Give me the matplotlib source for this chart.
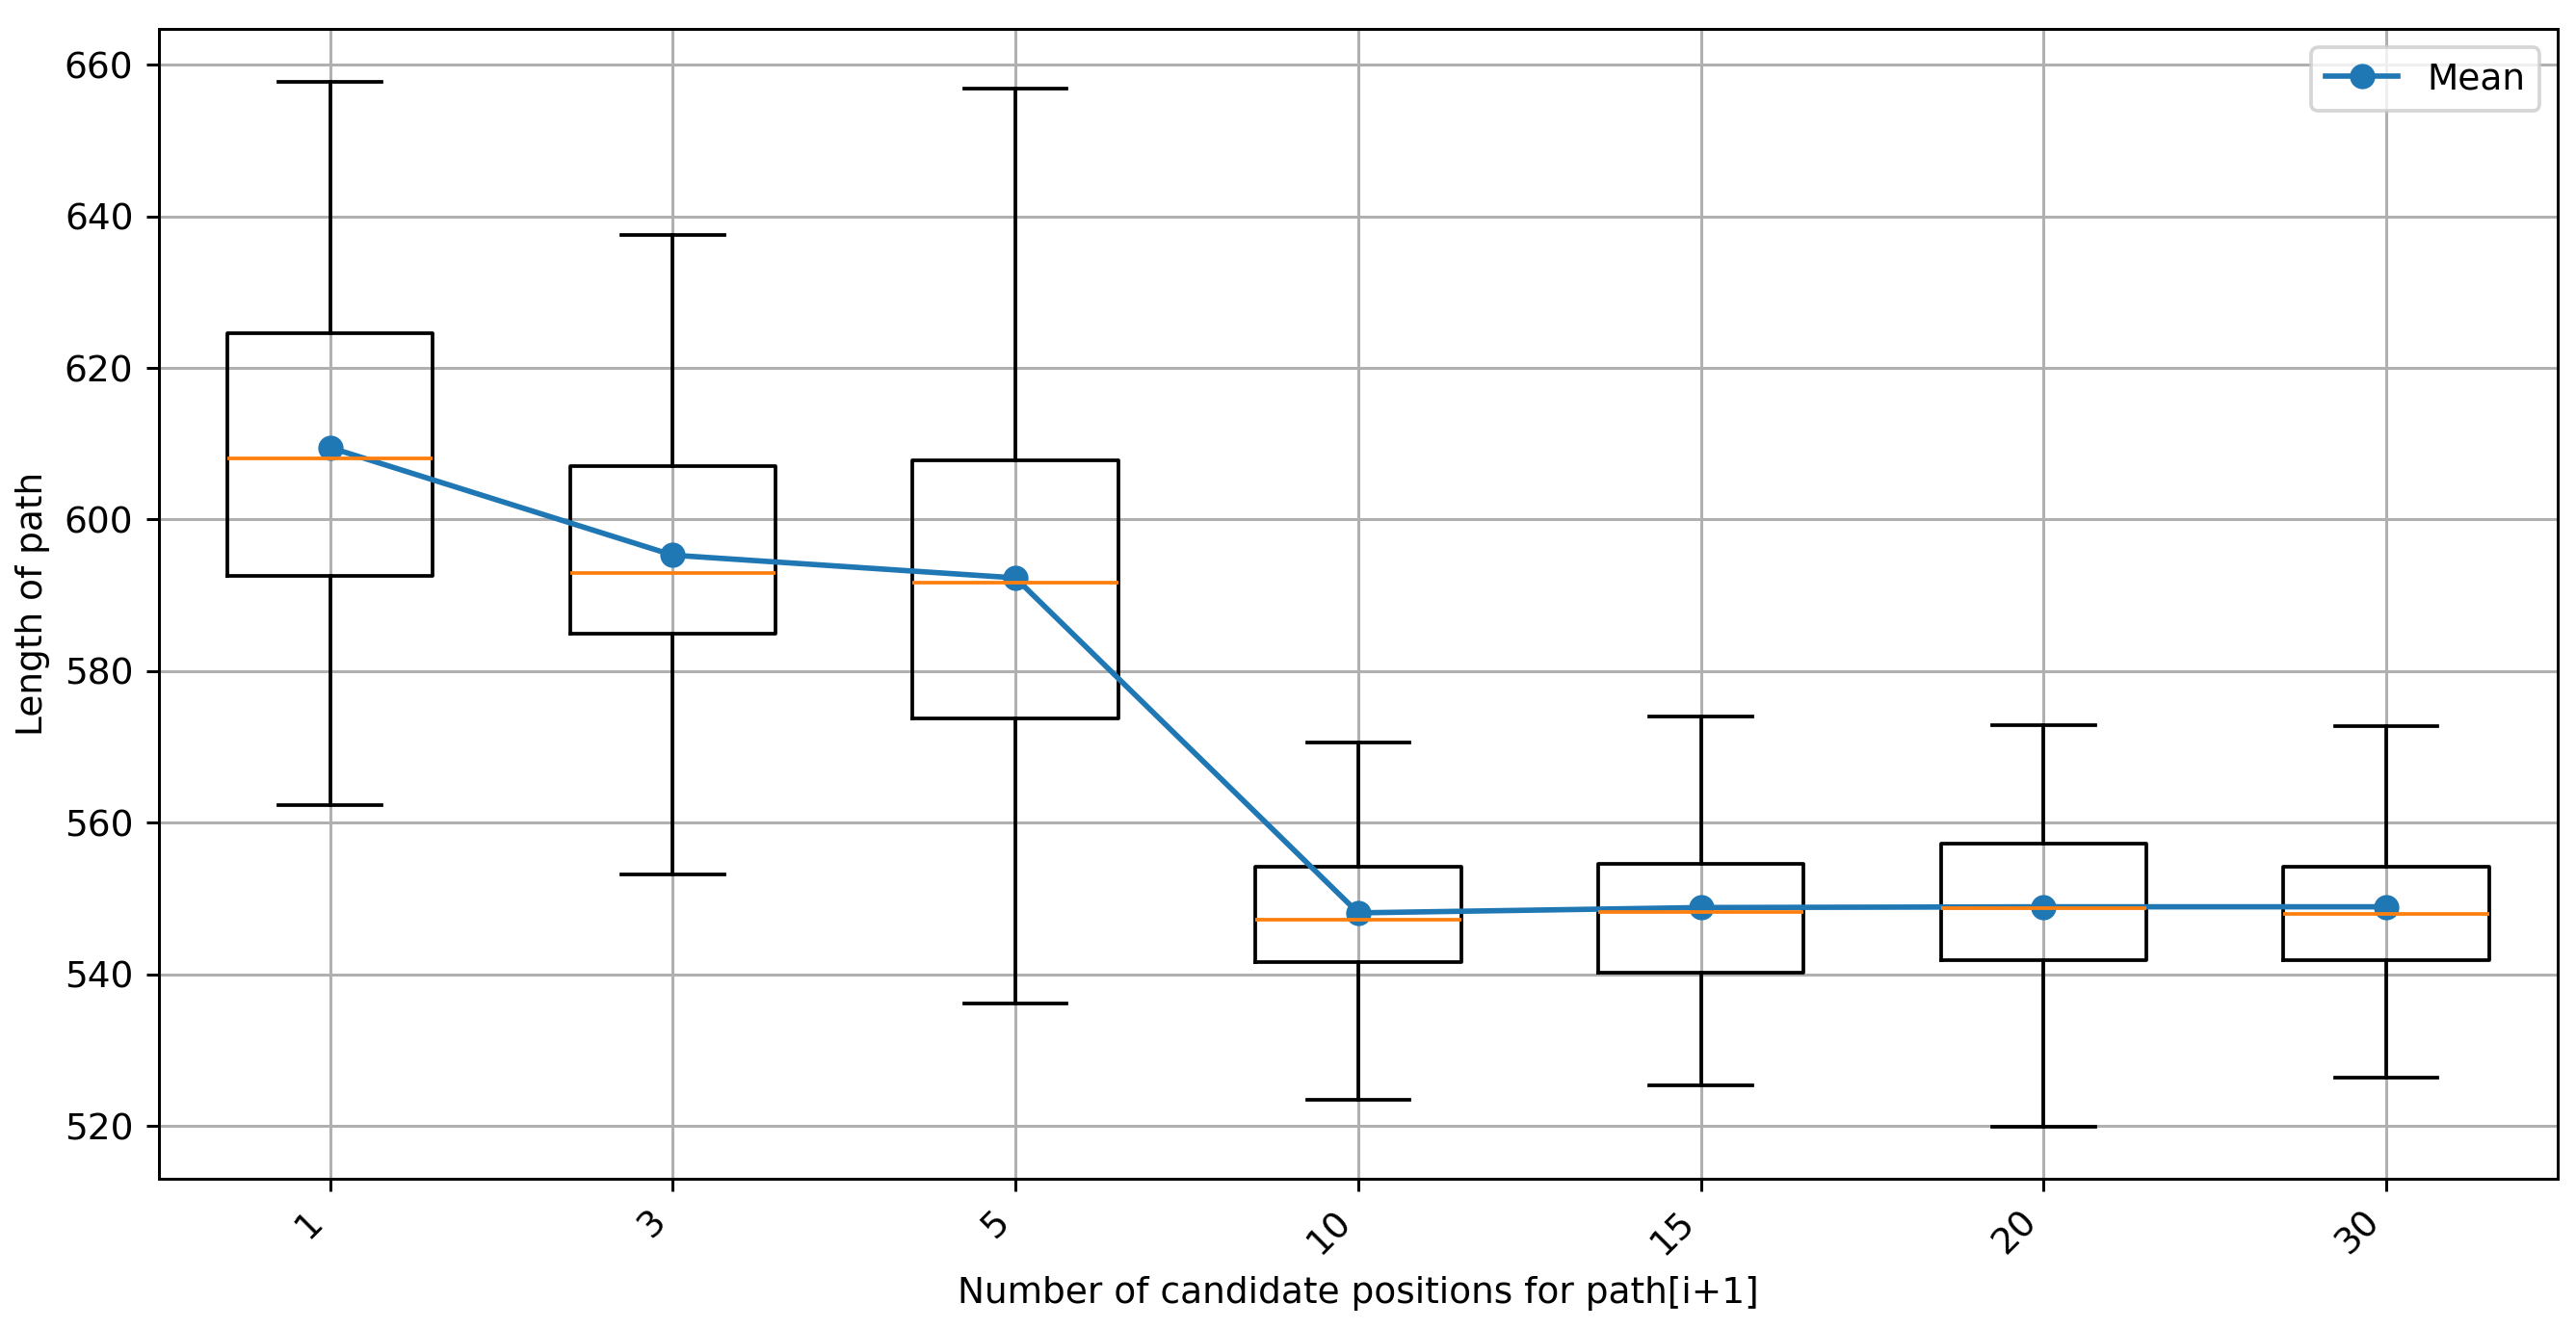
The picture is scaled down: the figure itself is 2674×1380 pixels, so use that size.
import matplotlib
matplotlib.use("Agg")
import matplotlib.pyplot as plt

# candidate counts on the x axis
candidates = ["1", "3", "5", "10", "15", "20", "30"]

# box statistics
whisker_low = [562.3, 553.2, 536.1, 523.4, 525.3, 519.9, 526.4]
q1 = [592.5, 585.0, 573.8, 541.6, 540.2, 541.8, 541.9]
medians = [608.1, 593.0, 591.7, 547.2, 548.2, 548.7, 547.9]
q3 = [624.6, 607.0, 607.8, 554.2, 554.6, 557.2, 554.2]
whisker_high = [657.8, 637.5, 656.8, 570.6, 574.0, 572.9, 572.7]
means = [609.5, 595.3, 592.3, 548.1, 548.8, 548.9, 548.9]

stats = []
for i, name in enumerate(candidates):
    stats.append({
        "label": name,
        "whislo": whisker_low[i],
        "q1": q1[i],
        "med": medians[i],
        "q3": q3[i],
        "whishi": whisker_high[i],
        "fliers": [],
    })

positions = list(range(1, len(candidates) + 1))

DPI = 270
fig = plt.figure(figsize=(2674 / DPI, 1380 / DPI), dpi=DPI)
ax = fig.add_axes([0.0616, 0.113, 0.9313, 0.865])

ax.bxp(stats, positions=positions, widths=0.6, showfliers=False)
ax.plot(positions, means, marker="o", label="Mean")

ax.set_xticks(positions)
ax.set_xticklabels(candidates, rotation=45, ha="right")
ax.set_xlabel("Number of candidate positions for path[i+1]")
ax.set_ylabel("Length of path")
ax.grid(True)
ax.legend(loc="upper right")

fig.savefig("out.png", dpi=DPI)
